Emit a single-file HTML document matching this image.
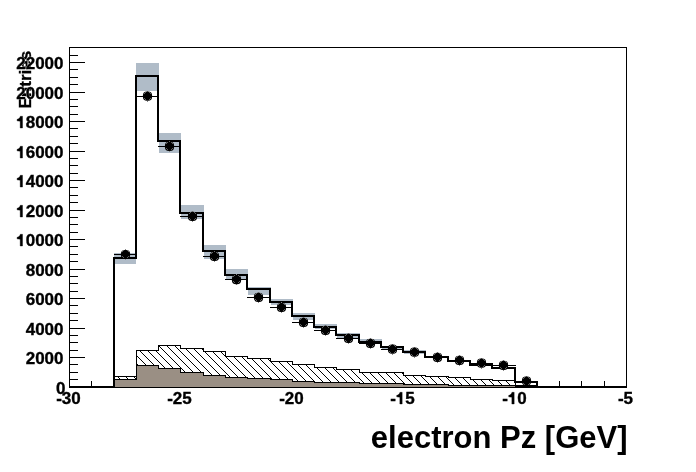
<!DOCTYPE html><html><head><meta charset="utf-8"><style>html,body{margin:0;padding:0;background:#fff}body{width:696px;height:472px;overflow:hidden;position:relative}svg{position:absolute;left:0;top:0}text,use{stroke:#000}text{font-family:"Liberation Sans",sans-serif;font-weight:bold;stroke:#000;stroke-width:0.35px}</style></head><body>
<svg width="696" height="472" viewBox="0 0 696 472">
<defs><pattern id="h" patternUnits="userSpaceOnUse" x="0" y="0" width="8" height="8">
<rect x="5" y="0" width="1" height="1" fill="#000"/>
<rect x="6" y="1" width="1" height="1" fill="#000"/>
<rect x="7" y="2" width="1" height="1" fill="#000"/>
<rect x="0" y="3" width="1" height="1" fill="#000"/>
<rect x="1" y="4" width="1" height="1" fill="#000"/>
<rect x="2" y="5" width="1" height="1" fill="#000"/>
<rect x="3" y="6" width="1" height="1" fill="#000"/>
<rect x="4" y="7" width="1" height="1" fill="#000"/>
</pattern></defs>
<g shape-rendering="crispEdges">
<rect x="69" y="47" width="558" height="1" fill="#000"/>
<rect x="69" y="47" width="1" height="341" fill="#000"/>
<rect x="626" y="47" width="1" height="341" fill="#000"/>
<rect x="70" y="379" width="8" height="1" fill="#000"/>
<rect x="70" y="372" width="8" height="1" fill="#000"/>
<rect x="70" y="364" width="8" height="1" fill="#000"/>
<rect x="70" y="357" width="15" height="1" fill="#000"/>
<rect x="70" y="350" width="8" height="1" fill="#000"/>
<rect x="70" y="342" width="8" height="1" fill="#000"/>
<rect x="70" y="335" width="8" height="1" fill="#000"/>
<rect x="70" y="328" width="15" height="1" fill="#000"/>
<rect x="70" y="320" width="8" height="1" fill="#000"/>
<rect x="70" y="313" width="8" height="1" fill="#000"/>
<rect x="70" y="305" width="8" height="1" fill="#000"/>
<rect x="70" y="298" width="15" height="1" fill="#000"/>
<rect x="70" y="291" width="8" height="1" fill="#000"/>
<rect x="70" y="283" width="8" height="1" fill="#000"/>
<rect x="70" y="276" width="8" height="1" fill="#000"/>
<rect x="70" y="269" width="15" height="1" fill="#000"/>
<rect x="70" y="261" width="8" height="1" fill="#000"/>
<rect x="70" y="254" width="8" height="1" fill="#000"/>
<rect x="70" y="246" width="8" height="1" fill="#000"/>
<rect x="70" y="239" width="15" height="1" fill="#000"/>
<rect x="70" y="232" width="8" height="1" fill="#000"/>
<rect x="70" y="224" width="8" height="1" fill="#000"/>
<rect x="70" y="217" width="8" height="1" fill="#000"/>
<rect x="70" y="210" width="15" height="1" fill="#000"/>
<rect x="70" y="202" width="8" height="1" fill="#000"/>
<rect x="70" y="195" width="8" height="1" fill="#000"/>
<rect x="70" y="187" width="8" height="1" fill="#000"/>
<rect x="70" y="180" width="15" height="1" fill="#000"/>
<rect x="70" y="173" width="8" height="1" fill="#000"/>
<rect x="70" y="165" width="8" height="1" fill="#000"/>
<rect x="70" y="158" width="8" height="1" fill="#000"/>
<rect x="70" y="151" width="15" height="1" fill="#000"/>
<rect x="70" y="143" width="8" height="1" fill="#000"/>
<rect x="70" y="136" width="8" height="1" fill="#000"/>
<rect x="70" y="128" width="8" height="1" fill="#000"/>
<rect x="70" y="121" width="15" height="1" fill="#000"/>
<rect x="70" y="114" width="8" height="1" fill="#000"/>
<rect x="70" y="106" width="8" height="1" fill="#000"/>
<rect x="70" y="99" width="8" height="1" fill="#000"/>
<rect x="70" y="92" width="15" height="1" fill="#000"/>
<rect x="70" y="84" width="8" height="1" fill="#000"/>
<rect x="70" y="77" width="8" height="1" fill="#000"/>
<rect x="70" y="69" width="8" height="1" fill="#000"/>
<rect x="70" y="62" width="15" height="1" fill="#000"/>
<rect x="70" y="55" width="8" height="1" fill="#000"/>
<rect x="91" y="381" width="1" height="5" fill="#000"/>
<rect x="114" y="381" width="1" height="5" fill="#000"/>
<rect x="136" y="381" width="1" height="5" fill="#000"/>
<rect x="158" y="381" width="1" height="5" fill="#000"/>
<rect x="180" y="375" width="1" height="11" fill="#000"/>
<rect x="203" y="381" width="1" height="5" fill="#000"/>
<rect x="225" y="381" width="1" height="5" fill="#000"/>
<rect x="247" y="381" width="1" height="5" fill="#000"/>
<rect x="270" y="381" width="1" height="5" fill="#000"/>
<rect x="292" y="375" width="1" height="11" fill="#000"/>
<rect x="314" y="381" width="1" height="5" fill="#000"/>
<rect x="336" y="381" width="1" height="5" fill="#000"/>
<rect x="359" y="381" width="1" height="5" fill="#000"/>
<rect x="381" y="381" width="1" height="5" fill="#000"/>
<rect x="403" y="375" width="1" height="11" fill="#000"/>
<rect x="425" y="381" width="1" height="5" fill="#000"/>
<rect x="448" y="381" width="1" height="5" fill="#000"/>
<rect x="470" y="381" width="1" height="5" fill="#000"/>
<rect x="492" y="381" width="1" height="5" fill="#000"/>
<rect x="515" y="375" width="1" height="11" fill="#000"/>
<rect x="537" y="381" width="1" height="5" fill="#000"/>
<rect x="559" y="381" width="1" height="5" fill="#000"/>
<rect x="581" y="381" width="1" height="5" fill="#000"/>
<rect x="604" y="381" width="1" height="5" fill="#000"/>
<rect x="69" y="386" width="558" height="2" fill="#000"/>
<rect x="114" y="376" width="23" height="10" fill="#fff"/>
<rect x="114" y="376" width="23" height="10" fill="url(#h)"/>
<rect x="136" y="350" width="23" height="36" fill="#fff"/>
<rect x="136" y="350" width="23" height="36" fill="url(#h)"/>
<rect x="158" y="345" width="23" height="41" fill="#fff"/>
<rect x="158" y="345" width="23" height="41" fill="url(#h)"/>
<rect x="180" y="348" width="24" height="38" fill="#fff"/>
<rect x="180" y="348" width="24" height="38" fill="url(#h)"/>
<rect x="203" y="351" width="23" height="35" fill="#fff"/>
<rect x="203" y="351" width="23" height="35" fill="url(#h)"/>
<rect x="225" y="356" width="23" height="30" fill="#fff"/>
<rect x="225" y="356" width="23" height="30" fill="url(#h)"/>
<rect x="247" y="358" width="24" height="28" fill="#fff"/>
<rect x="247" y="358" width="24" height="28" fill="url(#h)"/>
<rect x="270" y="361" width="23" height="25" fill="#fff"/>
<rect x="270" y="361" width="23" height="25" fill="url(#h)"/>
<rect x="292" y="364" width="23" height="22" fill="#fff"/>
<rect x="292" y="364" width="23" height="22" fill="url(#h)"/>
<rect x="314" y="367" width="23" height="19" fill="#fff"/>
<rect x="314" y="367" width="23" height="19" fill="url(#h)"/>
<rect x="336" y="369" width="24" height="17" fill="#fff"/>
<rect x="336" y="369" width="24" height="17" fill="url(#h)"/>
<rect x="359" y="372" width="23" height="14" fill="#fff"/>
<rect x="359" y="372" width="23" height="14" fill="url(#h)"/>
<rect x="381" y="372" width="23" height="14" fill="#fff"/>
<rect x="381" y="372" width="23" height="14" fill="url(#h)"/>
<rect x="403" y="375" width="23" height="11" fill="#fff"/>
<rect x="403" y="375" width="23" height="11" fill="url(#h)"/>
<rect x="425" y="376" width="24" height="10" fill="#fff"/>
<rect x="425" y="376" width="24" height="10" fill="url(#h)"/>
<rect x="448" y="377" width="23" height="9" fill="#fff"/>
<rect x="448" y="377" width="23" height="9" fill="url(#h)"/>
<rect x="470" y="379" width="23" height="7" fill="#fff"/>
<rect x="470" y="379" width="23" height="7" fill="url(#h)"/>
<rect x="492" y="380" width="24" height="6" fill="#fff"/>
<rect x="492" y="380" width="24" height="6" fill="url(#h)"/>
<rect x="515" y="385" width="23" height="1" fill="#fff"/>
<rect x="515" y="385" width="23" height="1" fill="url(#h)"/>
<rect x="114" y="376" width="23" height="1" fill="#000"/>
<rect x="136" y="350" width="23" height="1" fill="#000"/>
<rect x="136" y="350" width="1" height="27" fill="#000"/>
<rect x="158" y="345" width="23" height="1" fill="#000"/>
<rect x="158" y="345" width="1" height="6" fill="#000"/>
<rect x="180" y="348" width="24" height="1" fill="#000"/>
<rect x="180" y="345" width="1" height="4" fill="#000"/>
<rect x="203" y="351" width="23" height="1" fill="#000"/>
<rect x="203" y="348" width="1" height="4" fill="#000"/>
<rect x="225" y="356" width="23" height="1" fill="#000"/>
<rect x="225" y="351" width="1" height="6" fill="#000"/>
<rect x="247" y="358" width="24" height="1" fill="#000"/>
<rect x="247" y="356" width="1" height="3" fill="#000"/>
<rect x="270" y="361" width="23" height="1" fill="#000"/>
<rect x="270" y="358" width="1" height="4" fill="#000"/>
<rect x="292" y="364" width="23" height="1" fill="#000"/>
<rect x="292" y="361" width="1" height="4" fill="#000"/>
<rect x="314" y="367" width="23" height="1" fill="#000"/>
<rect x="314" y="364" width="1" height="4" fill="#000"/>
<rect x="336" y="369" width="24" height="1" fill="#000"/>
<rect x="336" y="367" width="1" height="3" fill="#000"/>
<rect x="359" y="372" width="23" height="1" fill="#000"/>
<rect x="359" y="369" width="1" height="4" fill="#000"/>
<rect x="381" y="372" width="23" height="1" fill="#000"/>
<rect x="381" y="372" width="1" height="1" fill="#000"/>
<rect x="403" y="375" width="23" height="1" fill="#000"/>
<rect x="403" y="372" width="1" height="4" fill="#000"/>
<rect x="425" y="376" width="24" height="1" fill="#000"/>
<rect x="425" y="375" width="1" height="2" fill="#000"/>
<rect x="448" y="377" width="23" height="1" fill="#000"/>
<rect x="448" y="376" width="1" height="2" fill="#000"/>
<rect x="470" y="379" width="23" height="1" fill="#000"/>
<rect x="470" y="377" width="1" height="3" fill="#000"/>
<rect x="492" y="380" width="24" height="1" fill="#000"/>
<rect x="492" y="379" width="1" height="2" fill="#000"/>
<rect x="515" y="385" width="23" height="1" fill="#000"/>
<rect x="515" y="380" width="1" height="6" fill="#000"/>
<rect x="114" y="379" width="23" height="8" fill="#9a8f84"/>
<rect x="136" y="365" width="23" height="22" fill="#9a8f84"/>
<rect x="158" y="368" width="23" height="19" fill="#9a8f84"/>
<rect x="180" y="372" width="24" height="15" fill="#9a8f84"/>
<rect x="203" y="375" width="23" height="12" fill="#9a8f84"/>
<rect x="225" y="377" width="23" height="10" fill="#9a8f84"/>
<rect x="247" y="378" width="24" height="9" fill="#9a8f84"/>
<rect x="270" y="379" width="23" height="8" fill="#9a8f84"/>
<rect x="292" y="381" width="23" height="6" fill="#9a8f84"/>
<rect x="314" y="382" width="23" height="5" fill="#9a8f84"/>
<rect x="336" y="382" width="24" height="5" fill="#9a8f84"/>
<rect x="359" y="383" width="23" height="4" fill="#9a8f84"/>
<rect x="381" y="383" width="23" height="4" fill="#9a8f84"/>
<rect x="403" y="384" width="23" height="3" fill="#9a8f84"/>
<rect x="425" y="384" width="24" height="3" fill="#9a8f84"/>
<rect x="448" y="385" width="23" height="2" fill="#9a8f84"/>
<rect x="470" y="385" width="23" height="2" fill="#9a8f84"/>
<rect x="492" y="385" width="23" height="2" fill="#9a8f84"/>
<rect x="114" y="379" width="23" height="1" fill="#000"/>
<rect x="136" y="365" width="23" height="1" fill="#000"/>
<rect x="136" y="365" width="1" height="15" fill="#000"/>
<rect x="158" y="368" width="23" height="1" fill="#000"/>
<rect x="158" y="365" width="1" height="4" fill="#000"/>
<rect x="180" y="372" width="24" height="1" fill="#000"/>
<rect x="180" y="368" width="1" height="5" fill="#000"/>
<rect x="203" y="375" width="23" height="1" fill="#000"/>
<rect x="203" y="372" width="1" height="4" fill="#000"/>
<rect x="225" y="377" width="23" height="1" fill="#000"/>
<rect x="225" y="375" width="1" height="3" fill="#000"/>
<rect x="247" y="378" width="24" height="1" fill="#000"/>
<rect x="247" y="377" width="1" height="2" fill="#000"/>
<rect x="270" y="379" width="23" height="1" fill="#000"/>
<rect x="270" y="378" width="1" height="2" fill="#000"/>
<rect x="292" y="381" width="23" height="1" fill="#000"/>
<rect x="292" y="379" width="1" height="3" fill="#000"/>
<rect x="314" y="382" width="23" height="1" fill="#000"/>
<rect x="314" y="381" width="1" height="2" fill="#000"/>
<rect x="336" y="382" width="24" height="1" fill="#000"/>
<rect x="336" y="382" width="1" height="1" fill="#000"/>
<rect x="359" y="383" width="23" height="1" fill="#000"/>
<rect x="359" y="382" width="1" height="2" fill="#000"/>
<rect x="381" y="383" width="23" height="1" fill="#000"/>
<rect x="381" y="383" width="1" height="1" fill="#000"/>
<rect x="403" y="384" width="23" height="1" fill="#000"/>
<rect x="403" y="383" width="1" height="2" fill="#000"/>
<rect x="425" y="384" width="24" height="1" fill="#000"/>
<rect x="425" y="384" width="1" height="1" fill="#000"/>
<rect x="448" y="385" width="23" height="1" fill="#000"/>
<rect x="448" y="384" width="1" height="2" fill="#000"/>
<rect x="470" y="385" width="23" height="1" fill="#000"/>
<rect x="470" y="385" width="1" height="1" fill="#000"/>
<rect x="492" y="385" width="24" height="1" fill="#000"/>
<rect x="492" y="385" width="1" height="1" fill="#000"/>
<rect x="515" y="385" width="23" height="1" fill="#000"/>
<rect x="515" y="385" width="1" height="1" fill="#000"/>
<rect x="114" y="253" width="22" height="11" fill="#b0bcc8"/>
<rect x="136" y="63" width="23" height="28" fill="#b0bcc8"/>
<rect x="159" y="133" width="22" height="20" fill="#b0bcc8"/>
<rect x="181" y="205" width="23" height="14" fill="#b0bcc8"/>
<rect x="204" y="245" width="22" height="14" fill="#b0bcc8"/>
<rect x="226" y="269" width="22" height="10" fill="#b0bcc8"/>
<rect x="248" y="287" width="23" height="8" fill="#b0bcc8"/>
<rect x="271" y="299" width="22" height="6" fill="#b0bcc8"/>
<rect x="293" y="313" width="22" height="7" fill="#b0bcc8"/>
<rect x="315" y="324" width="22" height="4.5" fill="#b0bcc8"/>
<rect x="337" y="333" width="23" height="5" fill="#b0bcc8"/>
<rect x="360" y="339" width="22" height="4" fill="#b0bcc8"/>
<rect x="382" y="346" width="22" height="3" fill="#b0bcc8"/>
<rect x="404" y="350.3" width="22" height="3.1999999999999886" fill="#b0bcc8"/>
<rect x="426" y="356" width="23" height="2.3999999999999773" fill="#b0bcc8"/>
<rect x="449" y="360" width="22" height="2" fill="#b0bcc8"/>
<rect x="471" y="363" width="22" height="2" fill="#b0bcc8"/>
<rect x="493" y="367" width="23" height="2" fill="#b0bcc8"/>
<rect x="516" y="381" width="22" height="2" fill="#b0bcc8"/>
<rect x="113" y="257" width="24" height="2" fill="#000"/>
<rect x="135" y="75" width="24" height="2" fill="#000"/>
<rect x="157" y="140" width="24" height="2" fill="#000"/>
<rect x="179" y="212" width="25" height="2" fill="#000"/>
<rect x="202" y="250" width="24" height="2" fill="#000"/>
<rect x="224" y="274" width="24" height="2" fill="#000"/>
<rect x="246" y="288" width="25" height="2" fill="#000"/>
<rect x="269" y="301" width="24" height="2" fill="#000"/>
<rect x="291" y="315" width="24" height="2" fill="#000"/>
<rect x="313" y="326" width="24" height="2" fill="#000"/>
<rect x="335" y="334" width="25" height="2" fill="#000"/>
<rect x="358" y="341" width="24" height="2" fill="#000"/>
<rect x="380" y="346" width="24" height="2" fill="#000"/>
<rect x="402" y="351" width="24" height="2" fill="#000"/>
<rect x="424" y="356" width="25" height="2" fill="#000"/>
<rect x="447" y="360" width="24" height="2" fill="#000"/>
<rect x="469" y="364" width="24" height="2" fill="#000"/>
<rect x="491" y="367" width="25" height="2" fill="#000"/>
<rect x="514" y="381" width="24" height="2" fill="#000"/>
<rect x="113" y="257" width="2" height="131" fill="#000"/>
<rect x="536" y="381" width="2" height="7" fill="#000"/>
<rect x="135" y="75" width="2" height="184" fill="#000"/>
<rect x="157" y="75" width="2" height="67" fill="#000"/>
<rect x="179" y="140" width="2" height="74" fill="#000"/>
<rect x="202" y="212" width="2" height="40" fill="#000"/>
<rect x="224" y="250" width="2" height="26" fill="#000"/>
<rect x="246" y="274" width="2" height="16" fill="#000"/>
<rect x="269" y="288" width="2" height="15" fill="#000"/>
<rect x="291" y="301" width="2" height="16" fill="#000"/>
<rect x="313" y="315" width="2" height="13" fill="#000"/>
<rect x="335" y="326" width="2" height="10" fill="#000"/>
<rect x="358" y="334" width="2" height="9" fill="#000"/>
<rect x="380" y="341" width="2" height="7" fill="#000"/>
<rect x="402" y="346" width="2" height="7" fill="#000"/>
<rect x="424" y="351" width="2" height="7" fill="#000"/>
<rect x="447" y="356" width="2" height="6" fill="#000"/>
<rect x="469" y="360" width="2" height="6" fill="#000"/>
<rect x="491" y="364" width="2" height="5" fill="#000"/>
<rect x="514" y="367" width="2" height="16" fill="#000"/>
<rect x="114" y="254" width="23" height="1" fill="#000"/>
<rect x="125" y="249" width="1" height="1" fill="#888"/>
<rect x="125" y="259" width="1" height="1" fill="#888"/>
<rect x="136" y="96" width="23" height="1" fill="#000"/>
<rect x="147" y="91" width="1" height="1" fill="#888"/>
<rect x="147" y="101" width="1" height="1" fill="#888"/>
<rect x="158" y="146" width="23" height="1" fill="#000"/>
<rect x="169" y="141" width="1" height="1" fill="#888"/>
<rect x="169" y="151" width="1" height="1" fill="#888"/>
<rect x="180" y="216" width="24" height="1" fill="#000"/>
<rect x="192" y="211" width="1" height="1" fill="#888"/>
<rect x="192" y="221" width="1" height="1" fill="#888"/>
<rect x="203" y="256" width="23" height="1" fill="#000"/>
<rect x="214" y="251" width="1" height="1" fill="#888"/>
<rect x="214" y="261" width="1" height="1" fill="#888"/>
<rect x="225" y="279" width="23" height="1" fill="#000"/>
<rect x="236" y="274" width="1" height="1" fill="#888"/>
<rect x="236" y="284" width="1" height="1" fill="#888"/>
<rect x="247" y="297" width="24" height="1" fill="#000"/>
<rect x="258" y="292" width="1" height="1" fill="#888"/>
<rect x="258" y="302" width="1" height="1" fill="#888"/>
<rect x="270" y="307" width="23" height="1" fill="#000"/>
<rect x="281" y="302" width="1" height="1" fill="#888"/>
<rect x="281" y="312" width="1" height="1" fill="#888"/>
<rect x="292" y="322" width="23" height="1" fill="#000"/>
<rect x="303" y="317" width="1" height="1" fill="#888"/>
<rect x="303" y="327" width="1" height="1" fill="#888"/>
<rect x="314" y="330" width="23" height="1" fill="#000"/>
<rect x="325" y="325" width="1" height="1" fill="#888"/>
<rect x="325" y="335" width="1" height="1" fill="#888"/>
<rect x="336" y="338" width="24" height="1" fill="#000"/>
<rect x="348" y="333" width="1" height="1" fill="#888"/>
<rect x="348" y="343" width="1" height="1" fill="#888"/>
<rect x="359" y="343" width="23" height="1" fill="#000"/>
<rect x="370" y="338" width="1" height="1" fill="#888"/>
<rect x="370" y="348" width="1" height="1" fill="#888"/>
<rect x="381" y="349" width="23" height="1" fill="#000"/>
<rect x="392" y="344" width="1" height="1" fill="#888"/>
<rect x="392" y="354" width="1" height="1" fill="#888"/>
<rect x="403" y="352" width="23" height="1" fill="#000"/>
<rect x="414" y="347" width="1" height="1" fill="#888"/>
<rect x="414" y="357" width="1" height="1" fill="#888"/>
<rect x="425" y="357" width="24" height="1" fill="#000"/>
<rect x="437" y="352" width="1" height="1" fill="#888"/>
<rect x="437" y="362" width="1" height="1" fill="#888"/>
<rect x="448" y="360" width="23" height="1" fill="#000"/>
<rect x="459" y="355" width="1" height="1" fill="#888"/>
<rect x="459" y="365" width="1" height="1" fill="#888"/>
<rect x="470" y="363" width="23" height="1" fill="#000"/>
<rect x="481" y="358" width="1" height="1" fill="#888"/>
<rect x="481" y="368" width="1" height="1" fill="#888"/>
<rect x="492" y="365" width="24" height="1" fill="#000"/>
<rect x="503" y="360" width="1" height="1" fill="#888"/>
<rect x="503" y="370" width="1" height="1" fill="#888"/>
<rect x="515" y="381" width="23" height="1" fill="#000"/>
<rect x="526" y="376" width="1" height="1" fill="#888"/>
</g>
<rect x="120.90" y="249.90" width="9.2" height="9.2" rx="4" fill="#000"/>
<rect x="142.90" y="91.60" width="9.2" height="9.2" rx="4" fill="#000"/>
<rect x="164.90" y="141.80" width="9.2" height="9.2" rx="4" fill="#000"/>
<rect x="187.90" y="211.70" width="9.2" height="9.2" rx="4" fill="#000"/>
<rect x="209.90" y="251.80" width="9.2" height="9.2" rx="4" fill="#000"/>
<rect x="231.90" y="275.00" width="9.2" height="9.2" rx="4" fill="#000"/>
<rect x="253.90" y="292.70" width="9.2" height="9.2" rx="4" fill="#000"/>
<rect x="276.90" y="302.90" width="9.2" height="9.2" rx="4" fill="#000"/>
<rect x="298.90" y="317.80" width="9.2" height="9.2" rx="4" fill="#000"/>
<rect x="320.90" y="325.70" width="9.2" height="9.2" rx="4" fill="#000"/>
<rect x="343.90" y="333.80" width="9.2" height="9.2" rx="4" fill="#000"/>
<rect x="365.90" y="338.70" width="9.2" height="9.2" rx="4" fill="#000"/>
<rect x="387.90" y="344.50" width="9.2" height="9.2" rx="4" fill="#000"/>
<rect x="409.90" y="347.60" width="9.2" height="9.2" rx="4" fill="#000"/>
<rect x="432.90" y="352.70" width="9.2" height="9.2" rx="4" fill="#000"/>
<rect x="454.90" y="355.70" width="9.2" height="9.2" rx="4" fill="#000"/>
<rect x="476.90" y="358.60" width="9.2" height="9.2" rx="4" fill="#000"/>
<rect x="498.90" y="360.70" width="9.2" height="9.2" rx="4" fill="#000"/>
<rect x="521.90" y="376.40" width="9.2" height="9.2" rx="4" fill="#000"/>
<g fill="#606060" shape-rendering="crispEdges">
<rect x="122" y="251" width="1" height="1"/>
<rect x="123" y="250" width="1" height="1"/>
<rect x="127" y="250" width="1" height="1"/>
<rect x="128" y="251" width="1" height="1"/>
<rect x="122" y="256" width="1" height="1"/>
<rect x="123" y="257" width="1" height="1"/>
<rect x="127" y="257" width="1" height="1"/>
<rect x="128" y="256" width="1" height="1"/>
<rect x="144" y="93" width="1" height="1"/>
<rect x="145" y="92" width="1" height="1"/>
<rect x="149" y="92" width="1" height="1"/>
<rect x="150" y="93" width="1" height="1"/>
<rect x="144" y="98" width="1" height="1"/>
<rect x="145" y="99" width="1" height="1"/>
<rect x="149" y="99" width="1" height="1"/>
<rect x="150" y="98" width="1" height="1"/>
<rect x="166" y="143" width="1" height="1"/>
<rect x="167" y="142" width="1" height="1"/>
<rect x="171" y="142" width="1" height="1"/>
<rect x="172" y="143" width="1" height="1"/>
<rect x="166" y="148" width="1" height="1"/>
<rect x="167" y="149" width="1" height="1"/>
<rect x="171" y="149" width="1" height="1"/>
<rect x="172" y="148" width="1" height="1"/>
<rect x="189" y="213" width="1" height="1"/>
<rect x="190" y="212" width="1" height="1"/>
<rect x="194" y="212" width="1" height="1"/>
<rect x="195" y="213" width="1" height="1"/>
<rect x="189" y="218" width="1" height="1"/>
<rect x="190" y="219" width="1" height="1"/>
<rect x="194" y="219" width="1" height="1"/>
<rect x="195" y="218" width="1" height="1"/>
<rect x="211" y="253" width="1" height="1"/>
<rect x="212" y="252" width="1" height="1"/>
<rect x="216" y="252" width="1" height="1"/>
<rect x="217" y="253" width="1" height="1"/>
<rect x="211" y="258" width="1" height="1"/>
<rect x="212" y="259" width="1" height="1"/>
<rect x="216" y="259" width="1" height="1"/>
<rect x="217" y="258" width="1" height="1"/>
<rect x="233" y="276" width="1" height="1"/>
<rect x="234" y="275" width="1" height="1"/>
<rect x="238" y="275" width="1" height="1"/>
<rect x="239" y="276" width="1" height="1"/>
<rect x="233" y="281" width="1" height="1"/>
<rect x="234" y="282" width="1" height="1"/>
<rect x="238" y="282" width="1" height="1"/>
<rect x="239" y="281" width="1" height="1"/>
<rect x="255" y="294" width="1" height="1"/>
<rect x="256" y="293" width="1" height="1"/>
<rect x="260" y="293" width="1" height="1"/>
<rect x="261" y="294" width="1" height="1"/>
<rect x="255" y="299" width="1" height="1"/>
<rect x="256" y="300" width="1" height="1"/>
<rect x="260" y="300" width="1" height="1"/>
<rect x="261" y="299" width="1" height="1"/>
<rect x="278" y="304" width="1" height="1"/>
<rect x="279" y="303" width="1" height="1"/>
<rect x="283" y="303" width="1" height="1"/>
<rect x="284" y="304" width="1" height="1"/>
<rect x="278" y="309" width="1" height="1"/>
<rect x="279" y="310" width="1" height="1"/>
<rect x="283" y="310" width="1" height="1"/>
<rect x="284" y="309" width="1" height="1"/>
<rect x="300" y="319" width="1" height="1"/>
<rect x="301" y="318" width="1" height="1"/>
<rect x="305" y="318" width="1" height="1"/>
<rect x="306" y="319" width="1" height="1"/>
<rect x="300" y="324" width="1" height="1"/>
<rect x="301" y="325" width="1" height="1"/>
<rect x="305" y="325" width="1" height="1"/>
<rect x="306" y="324" width="1" height="1"/>
<rect x="322" y="327" width="1" height="1"/>
<rect x="323" y="326" width="1" height="1"/>
<rect x="327" y="326" width="1" height="1"/>
<rect x="328" y="327" width="1" height="1"/>
<rect x="322" y="332" width="1" height="1"/>
<rect x="323" y="333" width="1" height="1"/>
<rect x="327" y="333" width="1" height="1"/>
<rect x="328" y="332" width="1" height="1"/>
<rect x="345" y="335" width="1" height="1"/>
<rect x="346" y="334" width="1" height="1"/>
<rect x="350" y="334" width="1" height="1"/>
<rect x="351" y="335" width="1" height="1"/>
<rect x="345" y="340" width="1" height="1"/>
<rect x="346" y="341" width="1" height="1"/>
<rect x="350" y="341" width="1" height="1"/>
<rect x="351" y="340" width="1" height="1"/>
<rect x="367" y="340" width="1" height="1"/>
<rect x="368" y="339" width="1" height="1"/>
<rect x="372" y="339" width="1" height="1"/>
<rect x="373" y="340" width="1" height="1"/>
<rect x="367" y="345" width="1" height="1"/>
<rect x="368" y="346" width="1" height="1"/>
<rect x="372" y="346" width="1" height="1"/>
<rect x="373" y="345" width="1" height="1"/>
<rect x="389" y="346" width="1" height="1"/>
<rect x="390" y="345" width="1" height="1"/>
<rect x="394" y="345" width="1" height="1"/>
<rect x="395" y="346" width="1" height="1"/>
<rect x="389" y="351" width="1" height="1"/>
<rect x="390" y="352" width="1" height="1"/>
<rect x="394" y="352" width="1" height="1"/>
<rect x="395" y="351" width="1" height="1"/>
<rect x="411" y="349" width="1" height="1"/>
<rect x="412" y="348" width="1" height="1"/>
<rect x="416" y="348" width="1" height="1"/>
<rect x="417" y="349" width="1" height="1"/>
<rect x="411" y="354" width="1" height="1"/>
<rect x="412" y="355" width="1" height="1"/>
<rect x="416" y="355" width="1" height="1"/>
<rect x="417" y="354" width="1" height="1"/>
<rect x="434" y="354" width="1" height="1"/>
<rect x="435" y="353" width="1" height="1"/>
<rect x="439" y="353" width="1" height="1"/>
<rect x="440" y="354" width="1" height="1"/>
<rect x="434" y="359" width="1" height="1"/>
<rect x="435" y="360" width="1" height="1"/>
<rect x="439" y="360" width="1" height="1"/>
<rect x="440" y="359" width="1" height="1"/>
<rect x="456" y="357" width="1" height="1"/>
<rect x="457" y="356" width="1" height="1"/>
<rect x="461" y="356" width="1" height="1"/>
<rect x="462" y="357" width="1" height="1"/>
<rect x="456" y="362" width="1" height="1"/>
<rect x="457" y="363" width="1" height="1"/>
<rect x="461" y="363" width="1" height="1"/>
<rect x="462" y="362" width="1" height="1"/>
<rect x="478" y="360" width="1" height="1"/>
<rect x="479" y="359" width="1" height="1"/>
<rect x="483" y="359" width="1" height="1"/>
<rect x="484" y="360" width="1" height="1"/>
<rect x="478" y="365" width="1" height="1"/>
<rect x="479" y="366" width="1" height="1"/>
<rect x="483" y="366" width="1" height="1"/>
<rect x="484" y="365" width="1" height="1"/>
<rect x="500" y="362" width="1" height="1"/>
<rect x="501" y="361" width="1" height="1"/>
<rect x="505" y="361" width="1" height="1"/>
<rect x="506" y="362" width="1" height="1"/>
<rect x="500" y="367" width="1" height="1"/>
<rect x="501" y="368" width="1" height="1"/>
<rect x="505" y="368" width="1" height="1"/>
<rect x="506" y="367" width="1" height="1"/>
<rect x="523" y="378" width="1" height="1"/>
<rect x="524" y="377" width="1" height="1"/>
<rect x="528" y="377" width="1" height="1"/>
<rect x="529" y="378" width="1" height="1"/>
<rect x="523" y="383" width="1" height="1"/>
<rect x="524" y="384" width="1" height="1"/>
<rect x="528" y="384" width="1" height="1"/>
<rect x="529" y="383" width="1" height="1"/>
</g>
<text transform="translate(31,108.5) rotate(-90)" x="0" y="0" font-size="17">Entries</text>
<defs><path id="one" d="M478 0L478 800L100 860L100 1040C300 1080 430 1200 493 1409L759 1409L759 0Z"/></defs>
<text x="56.045" y="393.6" font-size="17">0</text>
<text x="25.682" y="364" font-size="17">2000</text>
<text x="25.682" y="335" font-size="17">4000</text>
<text x="25.682" y="305" font-size="17">6000</text>
<text x="25.682" y="276" font-size="17">8000</text>
<text x="16.227" y="246" font-size="17"><tspan style="fill:none;stroke:none">1</tspan>0000</text>
<use href="#one" transform="translate(16.227,246) scale(0.008301,-0.008301)" style="stroke-width:42px"/>
<text x="16.227" y="217" font-size="17"><tspan style="fill:none;stroke:none">1</tspan>2000</text>
<use href="#one" transform="translate(16.227,217) scale(0.008301,-0.008301)" style="stroke-width:42px"/>
<text x="16.227" y="187" font-size="17"><tspan style="fill:none;stroke:none">1</tspan>4000</text>
<use href="#one" transform="translate(16.227,187) scale(0.008301,-0.008301)" style="stroke-width:42px"/>
<text x="16.227" y="158" font-size="17"><tspan style="fill:none;stroke:none">1</tspan>6000</text>
<use href="#one" transform="translate(16.227,158) scale(0.008301,-0.008301)" style="stroke-width:42px"/>
<text x="16.227" y="128" font-size="17"><tspan style="fill:none;stroke:none">1</tspan>8000</text>
<use href="#one" transform="translate(16.227,128) scale(0.008301,-0.008301)" style="stroke-width:42px"/>
<text x="16.227" y="99" font-size="17" style="fill:#fff;stroke:#fff;stroke-width:0.6px">20000</text>
<text x="16.227" y="99" font-size="17">20000</text>
<text x="16.227" y="69" font-size="17" style="fill:#fff;stroke:#fff;stroke-width:0.6px">22000</text>
<text x="16.227" y="69" font-size="17">22000</text>
<text x="56.215" y="404" font-size="17">-30</text>
<text x="167.215" y="404" font-size="17">-25</text>
<text x="279.215" y="404" font-size="17">-20</text>
<text x="390.215" y="404" font-size="17">-<tspan style="fill:none;stroke:none">1</tspan>5</text>
<use href="#one" transform="translate(395.876,404) scale(0.008301,-0.008301)" style="stroke-width:42px"/>
<text x="502.215" y="404" font-size="17">-<tspan style="fill:none;stroke:none">1</tspan>0</text>
<use href="#one" transform="translate(507.876,404) scale(0.008301,-0.008301)" style="stroke-width:42px"/>
<text x="617.942" y="404" font-size="17">-5</text>
<text x="627.5" y="448" font-size="31" text-anchor="end" style="stroke:none">electron Pz [GeV]</text>
<rect x="0" y="0" width="1" height="1" fill="#fff" style="mix-blend-mode:multiply"/>
</svg></body></html>
